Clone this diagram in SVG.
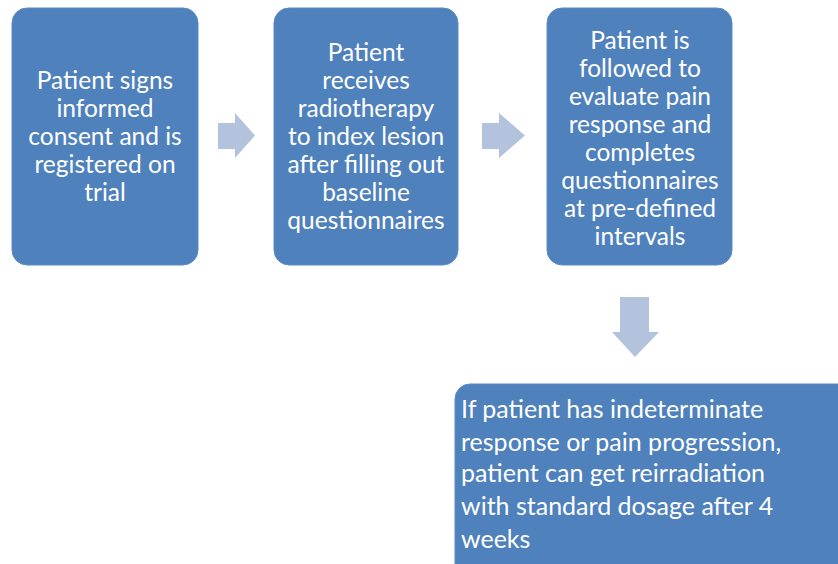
<svg xmlns="http://www.w3.org/2000/svg" width="838" height="564" viewBox="0 0 838 564">
<style>
.box{fill:#4F81BD;stroke:#5B8BC6;stroke-width:1}
.arr{fill:#B4C3DD}
text{font-family:Lato,"Open Sans","Liberation Sans",sans-serif;font-size:24.5px;fill:#FFFFFF}
.c{text-anchor:middle}
.l{font-size:25px}
</style>
<rect width="838" height="564" fill="#FFFFFF"/>
<g id="connectors">
<polygon class="arr" points="218,123 235,123 235,113 255,135.5 235,158 235,149 218,149"/>
<polygon class="arr" points="482,123 499,123 499,113 525,135.5 499,158 499,149 482,149"/>
<polygon class="arr" points="620,297 649,297 649,332 659,332 635,357 612,332 620,332"/>
</g>
<g id="node1">
<rect class="box" x="12" y="8" width="186" height="257" rx="15"/>
<text class="c" x="105" y="89">Patient signs</text>
<text class="c" x="105" y="117">informed</text>
<text class="c" x="105" y="145">consent and is</text>
<text class="c" x="105" y="173">registered on</text>
<text class="c" x="105" y="201">trial</text>
</g>
<g id="node2">
<rect class="box" x="274" y="8" width="184" height="257" rx="15"/>
<text class="c" x="366" y="61">Patient</text>
<text class="c" x="366" y="89">receives</text>
<text class="c" x="366" y="117">radiotherapy</text>
<text class="c" x="366" y="145">to index lesion</text>
<text class="c" x="366" y="173">after filling out</text>
<text class="c" x="366" y="201">baseline</text>
<text class="c" x="366" y="229">questionnaires</text>
</g>
<g id="node3">
<rect class="box" x="547" y="8" width="185" height="257" rx="15"/>
<text class="c" x="640" y="49">Patient is</text>
<text class="c" x="640" y="77">followed to</text>
<text class="c" x="640" y="105">evaluate pain</text>
<text class="c" x="640" y="133">response and</text>
<text class="c" x="640" y="161">completes</text>
<text class="c" x="640" y="189">questionnaires</text>
<text class="c" x="640" y="217">at pre-defined</text>
<text class="c" x="640" y="245">intervals</text>
</g>
<g id="node4">
<rect class="box" x="455" y="384" width="400" height="200" rx="15"/>
<text class="l" x="461" y="418">If patient has indeterminate</text>
<text class="l" x="461" y="451">response or pain progression,</text>
<text class="l" x="461" y="482">patient can get reirradiation</text>
<text class="l" x="461" y="515">with standard dosage after 4</text>
<text class="l" x="461" y="548">weeks</text>
</g>
</svg>
